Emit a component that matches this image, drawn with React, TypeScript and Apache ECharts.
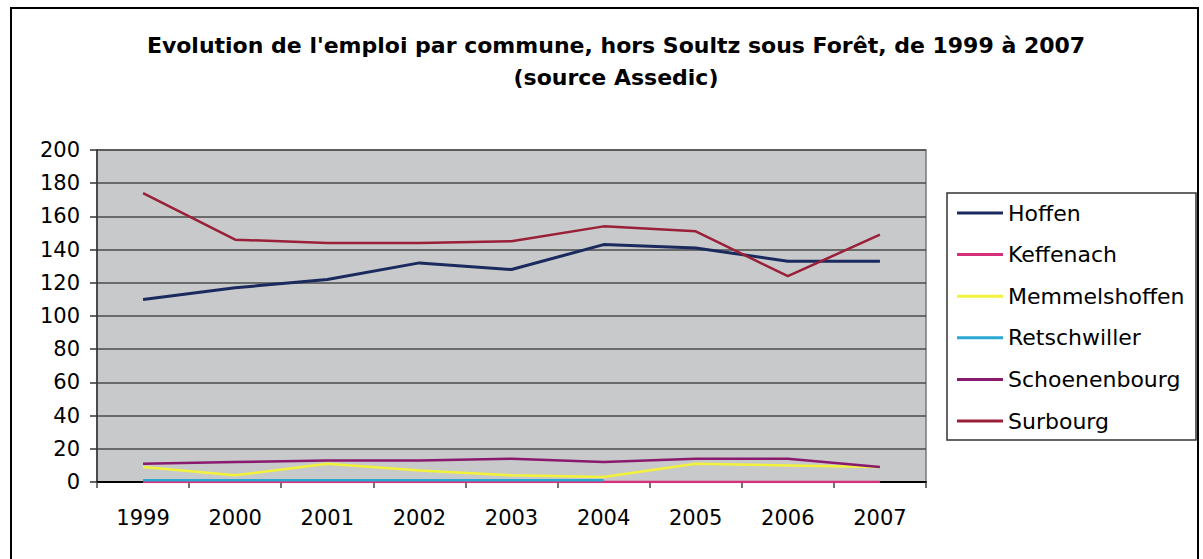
import React, { useEffect, useRef } from "react";
import * as echarts from "echarts";

const years = ["1999", "2000", "2001", "2002", "2003", "2004", "2005", "2006", "2007"];
const seriesNames = ["Hoffen", "Keffenach", "Memmelshoffen", "Retschwiller", "Schoenenbourg", "Surbourg"];
const hoffen = [110, 117, 122, 132, 128, 143, 141, 133, 133];
const keffenach = [0, 0, 0, 0, 0, 0, 0, 0, 0];
const memmelshoffen = [9, 4, 11, 7, 4, 3, 11, 10, 9];
const retschwiller = [1, 1, 1, 1, 1, 1, null, null, null];
const schoenenbourg = [11, 12, 13, 13, 14, 12, 14, 14, 9];
const surbourg = [174, 146, 144, 144, 145, 154, 151, 124, 149];
const seriesColors = ["#1b2a5e", "#d6307a", "#f2f23c", "#2aa7d2", "#8a1a6e", "#9a1f38"];
const seriesWidths = [3, 2.5, 2.5, 2.5, 2.5, 2.5];
const yTicks = { min: 0, max: 200, interval: 20 };

const FONT = "DejaVu Sans";

export default function App() {
  const ref = useRef<HTMLDivElement>(null);
  useEffect(() => {
    if (!ref.current) return;
    const chart = echarts.init(ref.current, null, { renderer: "svg" });
    const data = [hoffen, keffenach, memmelshoffen, retschwiller, schoenenbourg, surbourg];
    chart.setOption({
      animation: false,
      backgroundColor: "#ffffff",
      title: {
        text: "Evolution de l'emploi par commune, hors Soultz sous Forêt, de 1999 à 2007\n(source Assedic)",
        left: 611,
        top: 24,
        textAlign: "center",
        textStyle: {
          fontFamily: FONT,
          fontSize: 22,
          fontWeight: "bold",
          color: "#000",
          lineHeight: 32,
          align: "center",
        },
      },
      graphic: [
        {
          type: "rect",
          shape: { x: 11, y: 8, width: 1187, height: 570 },
          style: { fill: "none", stroke: "#000", lineWidth: 2 },
          z: 0,
          silent: true,
        },
        {
          type: "rect",
          shape: { x: 947, y: 193, width: 249, height: 247 },
          style: { fill: "#fff", stroke: "#333", lineWidth: 1.5 },
          z: 1,
          silent: true,
        },
      ],
      legend: {
        orient: "vertical",
        left: 957,
        top: 202,
        padding: 0,
        icon: "rect",
        itemWidth: 46,
        itemHeight: 3,
        itemGap: 19.6,
        data: seriesNames,
        z: 5,
        textStyle: { fontFamily: FONT, fontSize: 22, color: "#000", lineHeight: 20 },
      },
      grid: {
        left: 97,
        top: 150,
        right: 277,
        bottom: 77,
        show: true,
        backgroundColor: "#c7c9ca",
        borderColor: "#7a7a7a",
        borderWidth: 1.5,
      },
      xAxis: {
        type: "category",
        data: years,
        boundaryGap: true,
        axisLine: { show: true, lineStyle: { color: "#000", width: 2 } },
        axisTick: { show: true, alignWithLabel: false, length: 6, lineStyle: { color: "#444", width: 1.5 } },
        axisLabel: { fontFamily: FONT, fontSize: 21, color: "#000", margin: 25 },
        splitLine: { show: false },
      },
      yAxis: {
        type: "value",
        min: yTicks.min,
        max: yTicks.max,
        interval: yTicks.interval,
        axisLine: { show: true, lineStyle: { color: "#333", width: 1.5 } },
        axisTick: { show: true, length: 7, lineStyle: { color: "#333", width: 1.5 } },
        axisLabel: { fontFamily: FONT, fontSize: 21, color: "#000", margin: 17 },
        splitLine: { show: true, lineStyle: { color: "#4a4a4a", width: 1.5 } },
      },
      series: seriesNames.map((name, i) => ({
        name,
        type: "line",
        data: data[i],
        symbol: "none",
        showSymbol: false,
        connectNulls: false,
        lineStyle: { color: seriesColors[i], width: seriesWidths[i] },
        itemStyle: { color: seriesColors[i] },
        z: 3,
      })),
    });
    return () => chart.dispose();
  }, []);
  return <div ref={ref} style={{ position: "fixed", left: 0, top: 0, width: 1203, height: 559 }} />;
}
